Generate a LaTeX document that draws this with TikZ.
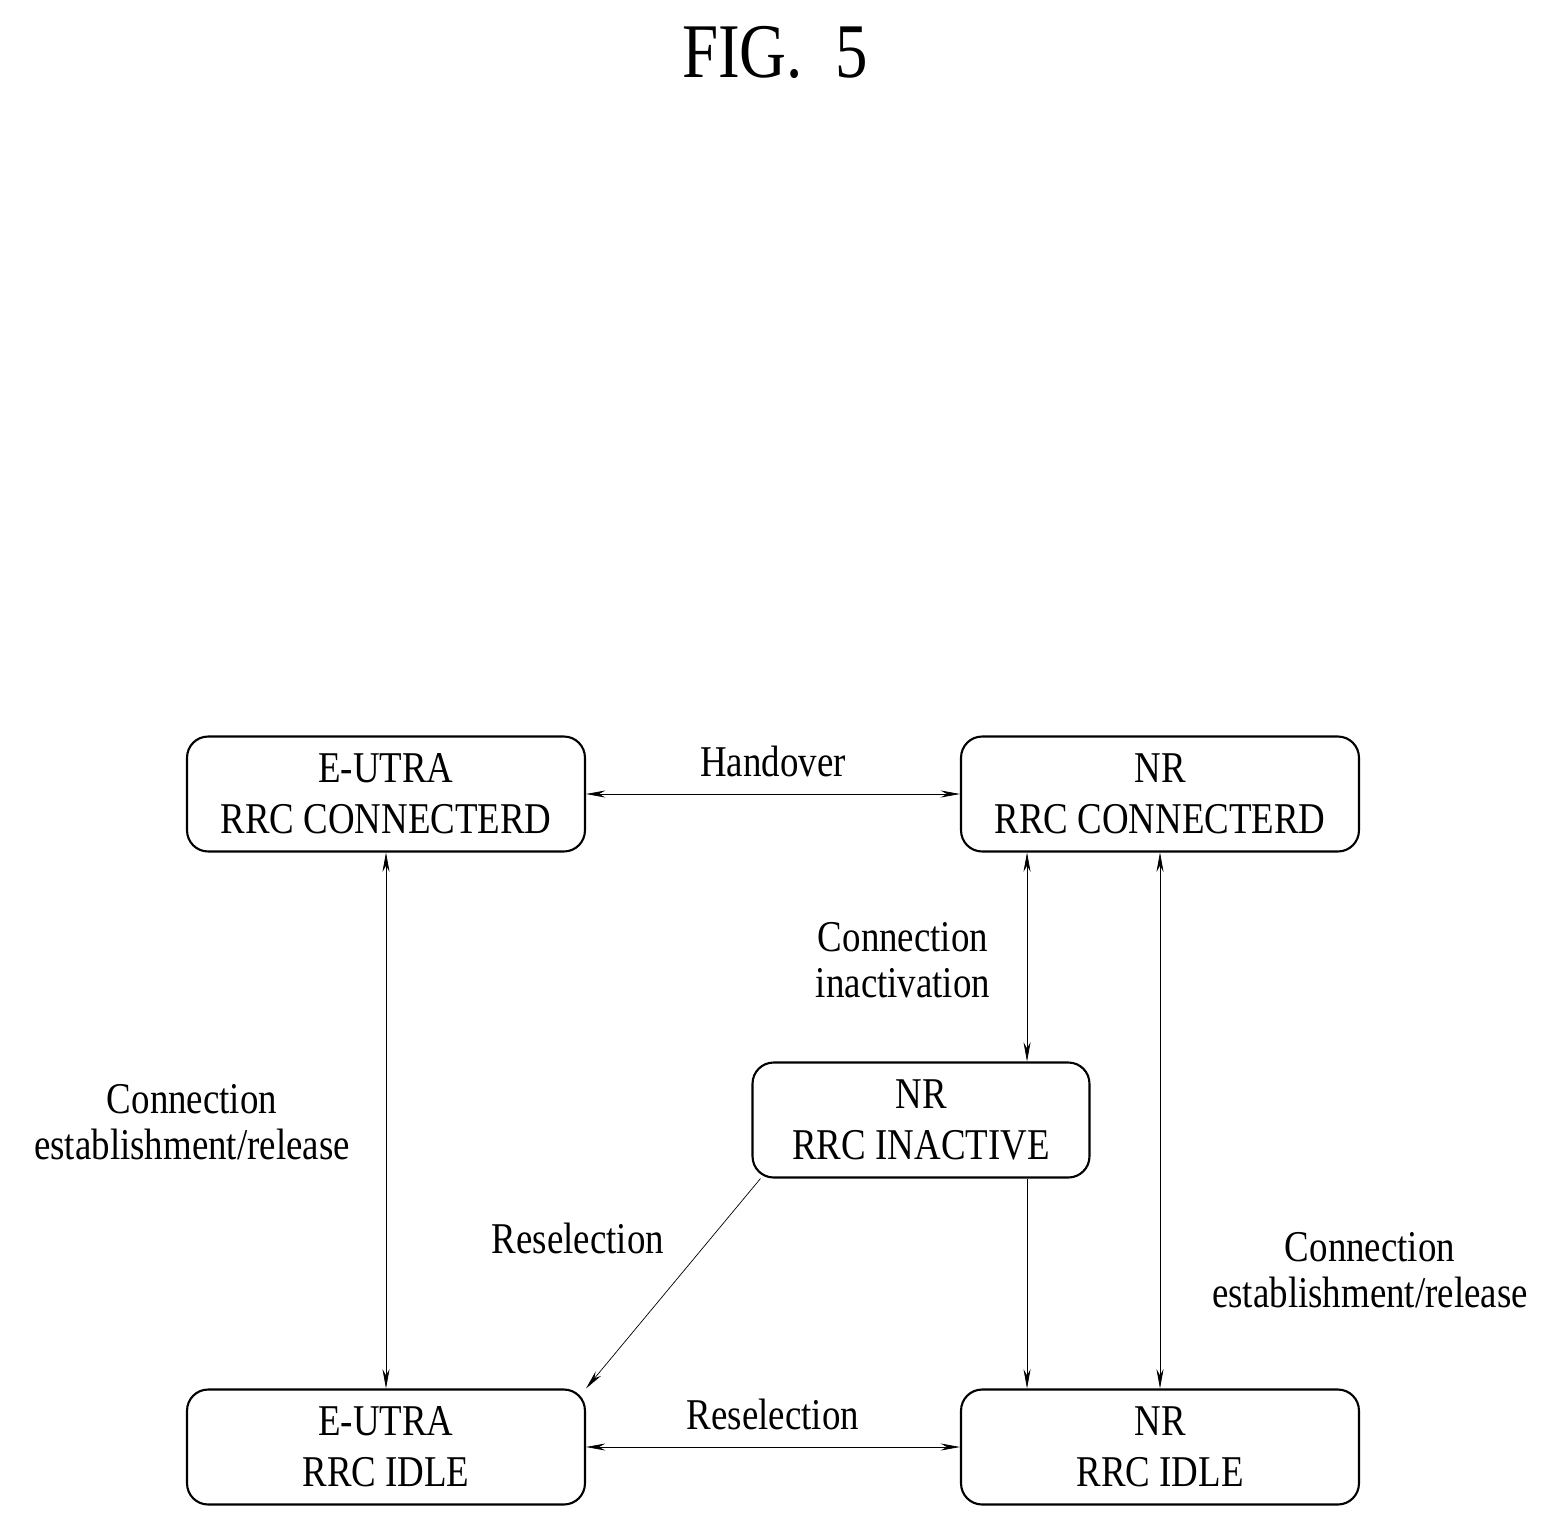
\documentclass[tikz,border=0pt]{standalone}
\usepackage{fontspec}
\setmainfont[FakeStretch=0.84]{Liberation Serif}
\usetikzlibrary{arrows.meta,positioning,calc}

\begin{document}
\begin{tikzpicture}[x=0.02cm, y=-0.02cm, >={Stealth[length=11pt,width=4pt]},
   state/.style={draw, rounded corners=12pt, line width=1.2pt, minimum width=7.96cm,
     minimum height=2.3cm, align=center, font=\fontsize{25}{29}\selectfont,
     append after command={[draw, line width=2.2pt, rounded corners=12pt]
       ([xshift=2pt,yshift=6pt]\tikzlastnode.south east) -- ([xshift=2pt,yshift=-2pt]\tikzlastnode.south east) -- ([xshift=6pt,yshift=-2pt]\tikzlastnode.south west)
       ([xshift=-6pt,yshift=2pt]\tikzlastnode.north east) -- ([xshift=2pt,yshift=2pt]\tikzlastnode.north east) -- ([xshift=2pt,yshift=-6pt]\tikzlastnode.south east)}},
   lbl/.style={align=center, font=\fontsize{25}{26}\selectfont}]
   \useasboundingbox (0,0) rectangle (1563,1529);
   \node[font=\fontsize{44}{44}\selectfont] (title) at (775,52) {FIG.~~5};

   \node[state] (euc) at (386,794) {E-UTRA\\RRC CONNECTERD};
   \node[state] (nrc) at (1160,794) {NR\\RRC CONNECTERD};
   \node[state, minimum width=6.74cm] (nri) at (921,1120) {NR\\RRC INACTIVE};
   \node[state] (eui) at (386,1447) {E-UTRA\\RRC IDLE};
   \node[state] (nrd) at (1160,1447) {NR\\RRC IDLE};

   \draw[<->] (euc) -- node[lbl, above=6pt] {Handover} (nrc);
   \draw[<->] (eui) -- node[lbl, above=6pt] {Reselection} (nrd);
   \draw[<->] (euc) -- (eui);
   \node[lbl] (lcer) at (192,1122) {Connection\\establishment/release};
   \draw[<->] ([xshift=-2.66cm]nrc.south) -- ([xshift=-2.66cm]nrc.south |- nri.north);
   \node[lbl] (lci) at (903,960) {Connection\\inactivation};
   \draw[<->] (nrc) -- (nrd);
   \node[lbl] (lcer2) at (1370,1270) {Connection\\establishment/release};
   \draw[->] ([xshift=-2.66cm]nrc.south |- nri.south) -- ([xshift=-2.66cm]nrc.south |- nrd.north);
   \draw[->] ([xshift=0.18cm]nri.south west) -- (eui.north east);
   \node[lbl] (lres) at (578,1238) {Reselection};
\end{tikzpicture}
\end{document}
